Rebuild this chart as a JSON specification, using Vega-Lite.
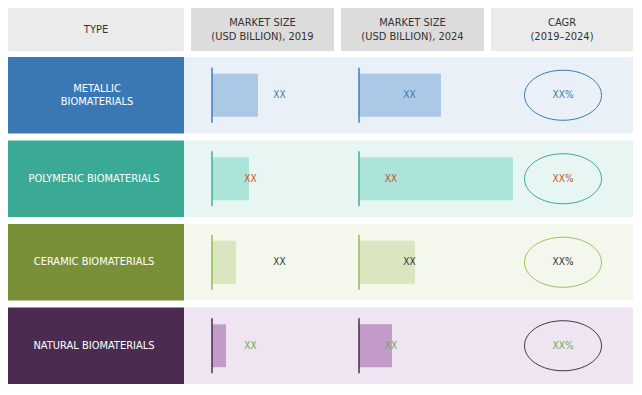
{
  "$schema": "https://vega.github.io/schema/vega-lite/v6.json",
  "padding": {"left": 8, "top": 8, "right": 0, "bottom": 0},
  "background": "white",
  "config": {"view": {"stroke": null}, "font": "'DejaVu Sans Condensed', 'Liberation Sans Narrow', Roboto, sans-serif"},
  "datasets": {
    "header": [
      {"col": "TYPE", "text": "TYPE"},
      {"col": "2019", "text": "MARKET SIZE\n(USD BILLION),  2019"},
      {"col": "2024", "text": "MARKET SIZE\n(USD BILLION),  2024"},
      {"col": "CAGR", "text": "CAGR\n(2019–2024)"}
    ],
    "rows": [
      {"type": "METALLIC\nBIOMATERIALS", "size2019": 4.6, "size2024": 8.2, "label2019": "XX", "label2024": "XX", "cagr": "XX%"},
      {"type": "POLYMERIC  BIOMATERIALS", "size2019": 3.7, "size2024": 15.4, "label2019": "XX", "label2024": "XX", "cagr": "XX%"},
      {"type": "CERAMIC BIOMATERIALS", "size2019": 2.4, "size2024": 5.6, "label2019": "XX", "label2024": "XX", "cagr": "XX%"},
      {"type": "NATURAL  BIOMATERIALS", "size2019": 1.4, "size2024": 3.3, "label2019": "XX", "label2024": "XX", "cagr": "XX%"}
    ]
  },
  "spacing": 6,
  "vconcat": [
    {
      "spacing": 7,
      "hconcat": [
        {"width": 176, "height": 43, "view": {"fill": "#ebebeb", "stroke": null}, "data": {"name": "header"}, "transform": [{"filter": "datum.col === 'TYPE'"}],
         "mark": {"type": "text", "lineBreak": "\n", "fontSize": 11, "lineHeight": 14, "color": "#333333"}, "encoding": {"text": {"field": "text"}}},
        {"width": 143, "height": 43, "view": {"fill": "#dcdcdc", "stroke": null}, "data": {"name": "header"}, "transform": [{"filter": "datum.col === '2019'"}],
         "mark": {"type": "text", "lineBreak": "\n", "fontSize": 11, "lineHeight": 14, "dy": -7, "color": "#333333"}, "encoding": {"text": {"field": "text"}}},
        {"width": 143, "height": 43, "view": {"fill": "#dcdcdc", "stroke": null}, "data": {"name": "header"}, "transform": [{"filter": "datum.col === '2024'"}],
         "mark": {"type": "text", "lineBreak": "\n", "fontSize": 11, "lineHeight": 14, "dy": -7, "color": "#333333"}, "encoding": {"text": {"field": "text"}}},
        {"width": 142, "height": 43, "view": {"fill": "#ebebeb", "stroke": null}, "data": {"name": "header"}, "transform": [{"filter": "datum.col === 'CAGR'"}],
         "mark": {"type": "text", "lineBreak": "\n", "fontSize": 11, "lineHeight": 14, "dy": -7, "color": "#333333"}, "encoding": {"text": {"field": "text"}}}
      ]
    },
    {
      "spacing": 0,
      "resolve": {"scale": {"color": "independent", "x": "independent"}},
      "hconcat": [
        {
          "width": 176, "height": 327, "data": {"name": "rows"},
          "resolve": {"scale": {"color": "independent"}},
          "layer": [
            {"mark": {"type": "rect"},
             "encoding": {
               "y": {"field": "type", "type": "nominal", "sort": null, "axis": null, "scale": {"paddingInner": 0.084, "paddingOuter": 0}},
               "x": {"value": 0}, "x2": {"value": "width"},
               "color": {"field": "type", "type": "nominal", "legend": null, "scale": {"domain": ["METALLIC\nBIOMATERIALS", "POLYMERIC  BIOMATERIALS", "CERAMIC BIOMATERIALS", "NATURAL  BIOMATERIALS"], "range": ["#3a78b5", "#3aaa94", "#7a9038", "#4b2c50"]}}
             }},
            {"transform": [{"filter": "!test(/\\n/, datum.type)"}],
             "mark": {"type": "text", "lineBreak": "\n", "fontSize": 11, "lineHeight": 13, "color": "white", "dx": -2},
             "encoding": {
               "y": {"field": "type", "type": "nominal", "sort": null, "axis": null, "scale": {"paddingInner": 0.084, "paddingOuter": 0}},
               "text": {"field": "type"}
             }},
            {"transform": [{"filter": "test(/\\n/, datum.type)"}],
             "mark": {"type": "text", "lineBreak": "\n", "fontSize": 11, "lineHeight": 13, "color": "white", "dx": 1, "dy": -6.5},
             "encoding": {
               "y": {"field": "type", "type": "nominal", "sort": null, "axis": null, "scale": {"paddingInner": 0.084, "paddingOuter": 0}},
               "text": {"field": "type"}
             }}
          ]
        },
        {
          "width": 147, "height": 327, "data": {"name": "rows"},
          "resolve": {"scale": {"color": "independent"}},
          "layer": [
            {"mark": {"type": "rect"},
             "encoding": {
               "y": {"field": "type", "type": "nominal", "sort": null, "axis": null, "scale": {"paddingInner": 0.084, "paddingOuter": 0}},
               "x": {"value": 0}, "x2": {"value": "width"},
               "color": {"field": "type", "type": "nominal", "legend": null, "scale": {"domain": ["METALLIC\nBIOMATERIALS", "POLYMERIC  BIOMATERIALS", "CERAMIC BIOMATERIALS", "NATURAL  BIOMATERIALS"], "range": ["#e9f0f8", "#e8f6f3", "#f4f7ec", "#efe4f1"]}}
             }},
            {"mark": {"type": "bar", "height": {"band": 0.56}},
             "encoding": {
               "y": {"field": "type", "type": "nominal", "sort": null, "axis": null, "scale": {"paddingInner": 0.084, "paddingOuter": 0}},
               "x": {"field": "size2019", "type": "quantitative", "axis": null, "scale": {"domain": [-2.8, 11.9], "nice": false, "zero": false}},
               "x2": {"datum": 0},
               "color": {"field": "type", "type": "nominal", "legend": null, "scale": {"domain": ["METALLIC\nBIOMATERIALS", "POLYMERIC  BIOMATERIALS", "CERAMIC BIOMATERIALS", "NATURAL  BIOMATERIALS"], "range": ["#abc8e6", "#ace4da", "#d9e6bf", "#c39bc9"]}}
             }},
            {"mark": {"type": "tick", "thickness": 2, "size": 55, "orient": "vertical"},
             "encoding": {
               "y": {"field": "type", "type": "nominal", "sort": null, "axis": null, "scale": {"paddingInner": 0.084, "paddingOuter": 0}},
               "x": {"datum": 0, "type": "quantitative"},
               "color": {"field": "type", "type": "nominal", "legend": null, "scale": {"domain": ["METALLIC\nBIOMATERIALS", "POLYMERIC  BIOMATERIALS", "CERAMIC BIOMATERIALS", "NATURAL  BIOMATERIALS"], "range": ["#3a78b5", "#3aaa94", "#8db84a", "#3a2540"]}}
             }},
            {"transform": [{"filter": "test(/METALLIC|CERAMIC/, datum.type)"}],
             "mark": {"type": "text", "fontSize": 10},
             "encoding": {
               "y": {"field": "type", "type": "nominal", "sort": null, "axis": null, "scale": {"paddingInner": 0.084, "paddingOuter": 0}},
               "x": {"datum": 6.75, "type": "quantitative"},
               "text": {"field": "label2019"},
               "color": {"field": "type", "type": "nominal", "legend": null, "scale": {"domain": ["METALLIC\nBIOMATERIALS", "POLYMERIC  BIOMATERIALS", "CERAMIC BIOMATERIALS", "NATURAL  BIOMATERIALS"], "range": ["#3a78b5", "#c8501e", "#333333", "#6aaa50"]}}
             }},
            {"transform": [{"filter": "test(/POLYMERIC|NATURAL/, datum.type)"}],
             "mark": {"type": "text", "fontSize": 10},
             "encoding": {
               "y": {"field": "type", "type": "nominal", "sort": null, "axis": null, "scale": {"paddingInner": 0.084, "paddingOuter": 0}},
               "x": {"datum": 3.85, "type": "quantitative"},
               "text": {"field": "label2019"},
               "color": {"field": "type", "type": "nominal", "legend": null, "scale": {"domain": ["METALLIC\nBIOMATERIALS", "POLYMERIC  BIOMATERIALS", "CERAMIC BIOMATERIALS", "NATURAL  BIOMATERIALS"], "range": ["#3a78b5", "#c8501e", "#333333", "#6aaa50"]}}
             }}
          ]
        },
        {
          "width": 189, "height": 327, "data": {"name": "rows"},
          "resolve": {"scale": {"color": "independent"}},
          "layer": [
            {"mark": {"type": "rect"},
             "encoding": {
               "y": {"field": "type", "type": "nominal", "sort": null, "axis": null, "scale": {"paddingInner": 0.084, "paddingOuter": 0}},
               "x": {"value": 0}, "x2": {"value": "width"},
               "color": {"field": "type", "type": "nominal", "legend": null, "scale": {"domain": ["METALLIC\nBIOMATERIALS", "POLYMERIC  BIOMATERIALS", "CERAMIC BIOMATERIALS", "NATURAL  BIOMATERIALS"], "range": ["#e9f0f8", "#e8f6f3", "#f4f7ec", "#efe4f1"]}}
             }},
            {"mark": {"type": "bar", "height": {"band": 0.56}},
             "encoding": {
               "y": {"field": "type", "type": "nominal", "sort": null, "axis": null, "scale": {"paddingInner": 0.084, "paddingOuter": 0}},
               "x": {"field": "size2024", "type": "quantitative", "axis": null, "scale": {"domain": [-2.8, 16.1], "nice": false, "zero": false}},
               "x2": {"datum": 0},
               "color": {"field": "type", "type": "nominal", "legend": null, "scale": {"domain": ["METALLIC\nBIOMATERIALS", "POLYMERIC  BIOMATERIALS", "CERAMIC BIOMATERIALS", "NATURAL  BIOMATERIALS"], "range": ["#abc8e6", "#ace4da", "#d9e6bf", "#c39bc9"]}}
             }},
            {"mark": {"type": "tick", "thickness": 2, "size": 55, "orient": "vertical"},
             "encoding": {
               "y": {"field": "type", "type": "nominal", "sort": null, "axis": null, "scale": {"paddingInner": 0.084, "paddingOuter": 0}},
               "x": {"datum": 0, "type": "quantitative"},
               "color": {"field": "type", "type": "nominal", "legend": null, "scale": {"domain": ["METALLIC\nBIOMATERIALS", "POLYMERIC  BIOMATERIALS", "CERAMIC BIOMATERIALS", "NATURAL  BIOMATERIALS"], "range": ["#3a78b5", "#3aaa94", "#8db84a", "#3a2540"]}}
             }},
            {"transform": [{"filter": "test(/METALLIC|CERAMIC/, datum.type)"}],
             "mark": {"type": "text", "fontSize": 10},
             "encoding": {
               "y": {"field": "type", "type": "nominal", "sort": null, "axis": null, "scale": {"paddingInner": 0.084, "paddingOuter": 0}},
               "x": {"datum": 5.05, "type": "quantitative"},
               "text": {"field": "label2024"},
               "color": {"field": "type", "type": "nominal", "legend": null, "scale": {"domain": ["METALLIC\nBIOMATERIALS", "POLYMERIC  BIOMATERIALS", "CERAMIC BIOMATERIALS", "NATURAL  BIOMATERIALS"], "range": ["#3a78b5", "#c8501e", "#333333", "#6aaa50"]}}
             }},
            {"transform": [{"filter": "test(/POLYMERIC|NATURAL/, datum.type)"}],
             "mark": {"type": "text", "fontSize": 10},
             "encoding": {
               "y": {"field": "type", "type": "nominal", "sort": null, "axis": null, "scale": {"paddingInner": 0.084, "paddingOuter": 0}},
               "x": {"datum": 3.2, "type": "quantitative"},
               "text": {"field": "label2024"},
               "color": {"field": "type", "type": "nominal", "legend": null, "scale": {"domain": ["METALLIC\nBIOMATERIALS", "POLYMERIC  BIOMATERIALS", "CERAMIC BIOMATERIALS", "NATURAL  BIOMATERIALS"], "range": ["#3a78b5", "#c8501e", "#333333", "#6aaa50"]}}
             }}
          ]
        },
        {
          "width": 113, "height": 327, "data": {"name": "rows"},
          "resolve": {"scale": {"color": "independent"}},
          "layer": [
            {"mark": {"type": "rect"},
             "encoding": {
               "y": {"field": "type", "type": "nominal", "sort": null, "axis": null, "scale": {"paddingInner": 0.084, "paddingOuter": 0}},
               "x": {"value": 0}, "x2": {"value": "width"},
               "color": {"field": "type", "type": "nominal", "legend": null, "scale": {"domain": ["METALLIC\nBIOMATERIALS", "POLYMERIC  BIOMATERIALS", "CERAMIC BIOMATERIALS", "NATURAL  BIOMATERIALS"], "range": ["#e9f0f8", "#e8f6f3", "#f4f7ec", "#efe4f1"]}}
             }},
            {"mark": {"type": "point", "shape": "M-1,0A1,0.65,0,1,1,1,0A1,0.65,0,1,1,-1,0Z", "size": 5929, "filled": false, "strokeWidth": 1, "opacity": 1, "xOffset": -13.5},
             "encoding": {
               "y": {"field": "type", "type": "nominal", "sort": null, "axis": null, "scale": {"paddingInner": 0.084, "paddingOuter": 0}},
               "color": {"field": "type", "type": "nominal", "legend": null, "scale": {"domain": ["METALLIC\nBIOMATERIALS", "POLYMERIC  BIOMATERIALS", "CERAMIC BIOMATERIALS", "NATURAL  BIOMATERIALS"], "range": ["#3a78b5", "#3aaa94", "#9cc45a", "#4b2c50"]}}
             }},
            {"mark": {"type": "text", "fontSize": 10, "xOffset": -13.5},
             "encoding": {
               "y": {"field": "type", "type": "nominal", "sort": null, "axis": null, "scale": {"paddingInner": 0.084, "paddingOuter": 0}},
               "text": {"field": "cagr"},
               "color": {"field": "type", "type": "nominal", "legend": null, "scale": {"domain": ["METALLIC\nBIOMATERIALS", "POLYMERIC  BIOMATERIALS", "CERAMIC BIOMATERIALS", "NATURAL  BIOMATERIALS"], "range": ["#3a78b5", "#c8501e", "#333333", "#6aaa50"]}}
             }}
          ]
        }
      ]
    }
  ]
}
